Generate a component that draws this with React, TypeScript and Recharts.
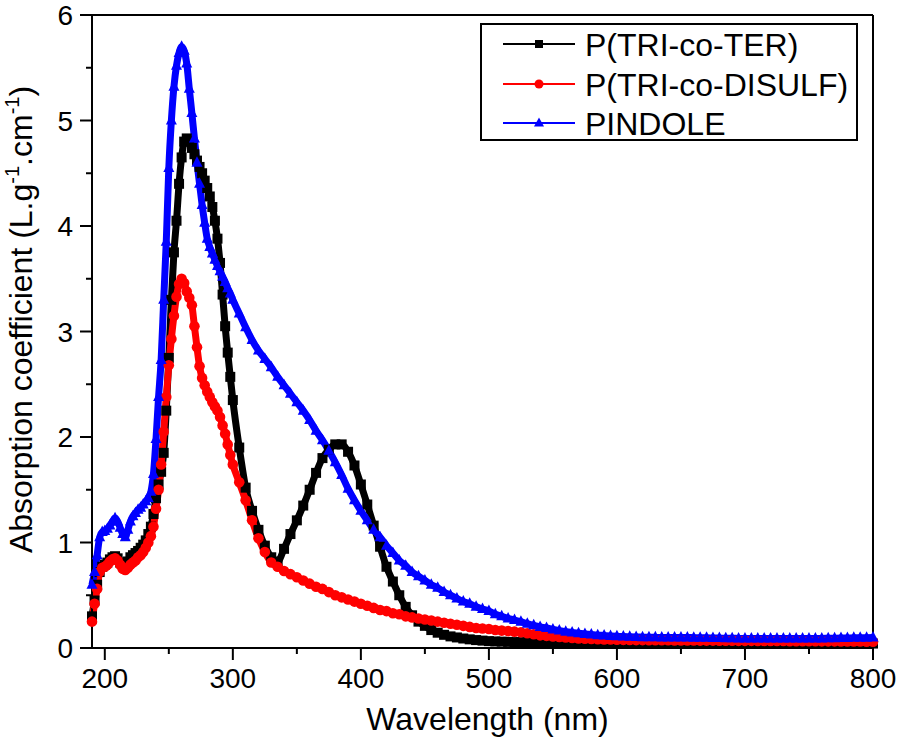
import { LineChart, Line, XAxis, YAxis, ReferenceLine } from "recharts";

// wavelength (nm)
const wavelength = [
  190, 192, 194, 196, 198, 200, 202, 204, 206, 208,
  210, 212, 214, 216, 218, 220, 222, 224, 226, 228,
  230, 232, 234, 236, 238, 240, 242, 244, 246, 248,
  250, 252, 254, 256, 258, 260, 262, 264, 266, 268,
  270, 272, 274, 276, 278, 280, 282, 284, 286, 288,
  290, 292, 294, 296, 298, 300,
  305, 310, 315, 320, 325, 330, 335, 340, 345, 350,
  355, 360, 365, 370, 375, 380, 385, 390, 395, 400,
  405, 410, 415, 420, 425, 430, 435, 440, 445, 450,
  455, 460, 465, 470, 475, 480, 485, 490, 495, 500,
  505, 510, 515, 520, 525, 530, 535, 540, 545, 550,
  555, 560, 565, 570, 575, 580, 585, 590, 595, 600,
  605, 610, 615, 620, 625, 630, 635, 640, 645, 650,
  655, 660, 665, 670, 675, 680, 685, 690, 695, 700,
  705, 710, 715, 720, 725, 730, 735, 740, 745, 750,
  755, 760, 765, 770, 775, 780, 785, 790, 795, 800,
];

// P(TRI-co-TER)
const terValues = [
  0.30, 0.45, 0.60, 0.72, 0.77, 0.79, 0.81, 0.84, 0.86, 0.87,
  0.85, 0.81, 0.79, 0.79, 0.82, 0.86, 0.88, 0.90, 0.92, 0.95,
  0.98, 1.02, 1.08, 1.15, 1.27, 1.42, 1.55, 1.67, 1.85, 2.25,
  2.75, 3.30, 3.75, 4.05, 4.40, 4.65, 4.80, 4.83, 4.80, 4.74,
  4.68, 4.62, 4.56, 4.50, 4.43, 4.36, 4.28, 4.18, 4.05, 3.88,
  3.65, 3.35, 3.05, 2.80, 2.57, 2.35,
  1.90, 1.52, 1.30, 1.12, 0.97, 0.86, 0.82, 0.94, 1.08, 1.21,
  1.35, 1.50, 1.66, 1.80, 1.88, 1.93, 1.93, 1.86, 1.73, 1.55,
  1.36, 1.16, 0.96, 0.77, 0.63, 0.50, 0.39, 0.31, 0.25, 0.21,
  0.17, 0.145, 0.125, 0.11, 0.10, 0.09, 0.082, 0.075, 0.07, 0.065,
  0.062, 0.06, 0.058, 0.056, 0.055, 0.054, 0.053, 0.052, 0.051, 0.05,
  0.05, 0.049, 0.048, 0.048, 0.047, 0.047, 0.046, 0.046, 0.045, 0.045,
  0.045, 0.044, 0.044, 0.044, 0.043, 0.043, 0.043, 0.043, 0.042, 0.042,
  0.042, 0.042, 0.042, 0.041, 0.041, 0.041, 0.041, 0.041, 0.04, 0.04,
  0.04, 0.04, 0.04, 0.04, 0.04, 0.04, 0.04, 0.04, 0.04, 0.04,
  0.04, 0.04, 0.04, 0.04, 0.041, 0.041, 0.041, 0.042, 0.042, 0.042,
];

// P(TRI-co-DISULF)
const disulfValues = [
  0.25, 0.42, 0.56, 0.72, 0.76, 0.77, 0.79, 0.82, 0.84, 0.85,
  0.83, 0.79, 0.75, 0.74, 0.76, 0.79, 0.81, 0.83, 0.86, 0.88,
  0.91, 0.95, 1.00, 1.06, 1.15, 1.32, 1.50, 1.74, 2.05, 2.38,
  2.68, 2.93, 3.15, 3.33, 3.45, 3.50, 3.46, 3.38, 3.32, 3.25,
  3.05, 2.85, 2.67, 2.56, 2.49, 2.43, 2.38, 2.33, 2.29, 2.25,
  2.19, 2.11, 2.03, 1.93, 1.83, 1.74,
  1.57, 1.40, 1.21, 1.04, 0.91, 0.81, 0.77, 0.73, 0.70, 0.67,
  0.64, 0.61, 0.58, 0.56, 0.53, 0.50, 0.48, 0.46, 0.44, 0.42,
  0.40, 0.38, 0.36, 0.35, 0.33, 0.32, 0.30, 0.29, 0.28, 0.27,
  0.26, 0.25, 0.24, 0.23, 0.22, 0.21, 0.20, 0.19, 0.185, 0.18,
  0.17, 0.165, 0.16, 0.155, 0.15, 0.14, 0.13, 0.12, 0.115, 0.11,
  0.105, 0.10, 0.095, 0.09, 0.088, 0.085, 0.083, 0.081, 0.08, 0.078,
  0.077, 0.076, 0.075, 0.075, 0.074, 0.074, 0.073, 0.073, 0.072, 0.072,
  0.071, 0.071, 0.07, 0.07, 0.07, 0.069, 0.069, 0.069, 0.068, 0.068,
  0.068, 0.067, 0.067, 0.066, 0.066, 0.066, 0.065, 0.065, 0.065, 0.064,
  0.064, 0.063, 0.063, 0.063, 0.062, 0.062, 0.061, 0.061, 0.06, 0.06,
];

// PINDOLE
const pindoleValues = [
  0.60, 0.72, 0.88, 1.05, 1.10, 1.11, 1.13, 1.16, 1.20, 1.23,
  1.20, 1.14, 1.08, 1.05, 1.12, 1.20, 1.25, 1.28, 1.31, 1.33,
  1.36, 1.39, 1.42, 1.48, 1.65, 1.98, 2.38, 2.73, 3.30, 3.85,
  4.55, 5.00, 5.32, 5.52, 5.64, 5.70, 5.66, 5.54, 5.30, 5.07,
  4.83, 4.60, 4.40, 4.20, 4.03, 3.88, 3.80, 3.74, 3.68, 3.62,
  3.57, 3.52, 3.47, 3.41, 3.36, 3.30,
  3.17, 3.04, 2.92, 2.82, 2.74, 2.66, 2.57, 2.49, 2.41, 2.33,
  2.25, 2.16, 2.06, 1.97, 1.87, 1.76, 1.64, 1.51, 1.40, 1.30,
  1.21, 1.12, 1.05, 0.97, 0.90, 0.83, 0.78, 0.72, 0.68, 0.64,
  0.60, 0.57, 0.53, 0.50, 0.47, 0.44, 0.42, 0.39, 0.37, 0.35,
  0.32, 0.30, 0.28, 0.265, 0.25, 0.23, 0.215, 0.20, 0.19, 0.175,
  0.165, 0.155, 0.147, 0.14, 0.133, 0.127, 0.122, 0.118, 0.114, 0.111,
  0.108, 0.106, 0.104, 0.103, 0.102, 0.101, 0.10, 0.10, 0.10, 0.10,
  0.099, 0.098, 0.097, 0.096, 0.095, 0.094, 0.093, 0.092, 0.091, 0.09,
  0.09, 0.09, 0.09, 0.09, 0.09, 0.09, 0.09, 0.09, 0.09, 0.09,
  0.09, 0.091, 0.092, 0.093, 0.094, 0.095, 0.096, 0.097, 0.098, 0.10,
];

const xTicks = [200, 250, 300, 350, 400, 450, 500, 550, 600, 650, 700, 750, 800];
const yTicks = [0, 0.5, 1, 1.5, 2, 2.5, 3, 3.5, 4, 4.5, 5, 5.5, 6];

const seriesNames = ["P(TRI-co-TER)", "P(TRI-co-DISULF)", "PINDOLE"];
const seriesColors = ["#000000", "#ff0000", "#0000ff"];

const FONT = '"Liberation Sans", Arial, Helvetica, sans-serif';
const TICK = 12;
const MINOR = 6;
const XGAP = 8;
const YGAP = 7;
const BAND = 7;

const data = wavelength.map((wl, i) => ({
  wl,
  ter: terValues[i],
  disulf: disulfValues[i],
  pindole: pindoleValues[i],
}));

function XTick(props: any) {
  const { x, y, payload } = props;
  const axisY = y - TICK - XGAP;
  const major = payload.value % 100 === 0;
  return (
    <g>
      <line x1={x} x2={x} y1={axisY} y2={axisY + (major ? TICK : MINOR)} stroke="#000" strokeWidth={2} />
      {major && (
        <text x={x} y={y} dy="0.71em" textAnchor="middle" fontSize={28} fontFamily={FONT} fill="#000">
          {payload.value}
        </text>
      )}
    </g>
  );
}

function YTick(props: any) {
  const { x, y, payload } = props;
  const axisX = x + TICK + YGAP;
  const major = Number.isInteger(payload.value);
  return (
    <g>
      <line x1={axisX} x2={axisX - (major ? TICK : MINOR)} y1={y} y2={y} stroke="#000" strokeWidth={2} />
      {major && (
        <text x={x} y={y} dy="0.36em" textAnchor="end" fontSize={28} fontFamily={FONT} fill="#000">
          {payload.value}
        </text>
      )}
    </g>
  );
}

function XTitle(props: any) {
  const { x, y, width } = props.viewBox;
  return (
    <text x={x + width / 2 + 5} y={y + 82} textAnchor="middle" fontSize={32} fontFamily={FONT} fill="#000">
      Wavelength (nm)
    </text>
  );
}

function YTitle(props: any) {
  const { y, height } = props.viewBox;
  return (
    <text
      transform={`translate(32, ${y + height / 2 - 12}) rotate(-90)`}
      textAnchor="middle"
      fontSize={32}
      fontFamily={FONT}
      fill="#000"
    >
      Absorption coefficient (L.g
      <tspan dy={-13} fontSize={20}>-1</tspan>
      <tspan dy={13}>.cm</tspan>
      <tspan dy={-13} fontSize={20}>-1</tspan>
      <tspan dy={13}>)</tspan>
    </text>
  );
}

const squareDot = (p: any) =>
  p.cx == null ? null : (
    <rect key={p.index} x={p.cx - 5} y={p.cy - 5} width={10} height={10} fill="#000" />
  );

const circleDot = (p: any) =>
  p.cx == null ? null : <circle key={p.index} cx={p.cx} cy={p.cy} r={5.3} fill="#ff0000" />;

const triangleDot = (p: any) =>
  p.cx == null ? null : (
    <polygon
      key={p.index}
      points={`${p.cx},${p.cy - 6.5} ${p.cx - 5.5},${p.cy + 4} ${p.cx + 5.5},${p.cy + 4}`}
      fill="#0000ff"
    />
  );

function LegendBox() {
  const rows = [21, 61, 100];
  return (
    <svg width={378} height={118} style={{ position: "absolute", left: 480, top: 23 }}>
      <rect x={1} y={1} width={376} height={116} fill="#fff" stroke="#000" strokeWidth={2} />
      {seriesNames.map((name, i) => (
        <g key={name}>
          <line x1={23} x2={95} y1={rows[i]} y2={rows[i]} stroke={seriesColors[i]} strokeWidth={2} />
          {i === 0 && <rect x={55} y={rows[i] - 4} width={8} height={8} fill="#000" />}
          {i === 1 && <circle cx={59} cy={rows[i]} r={4.5} fill="#ff0000" />}
          {i === 2 && (
            <polygon
              points={`59,${rows[i] - 5.5} 54,${rows[i] + 3.5} 64,${rows[i] + 3.5}`}
              fill="#0000ff"
            />
          )}
          <text x={105} y={rows[i]} dy="0.36em" fontSize={32} fontFamily={FONT} fill="#000">
            {name}
          </text>
        </g>
      ))}
    </svg>
  );
}

export default function App() {
  return (
    <div style={{ position: "absolute", left: 0, top: 0, width: 898, height: 741, background: "#fff" }}>
      <LineChart width={898} height={741} data={data} margin={{ top: 15, right: 25, bottom: 0, left: 0 }}>
        <XAxis
          dataKey="wl"
          type="number"
          domain={[190, 800]}
          ticks={xTicks}
          interval={0}
          tickSize={TICK}
          tickMargin={XGAP}
          tickLine={false}
          tick={<XTick />}
          height={93}
          axisLine={{ stroke: "#000", strokeWidth: 2 }}
          label={<XTitle />}
        />
        <YAxis
          type="number"
          domain={[0, 6]}
          ticks={yTicks}
          interval={0}
          tickSize={TICK}
          tickMargin={YGAP}
          tickLine={false}
          tick={<YTick />}
          width={92}
          axisLine={{ stroke: "#000", strokeWidth: 2 }}
          label={<YTitle />}
        />
        <ReferenceLine y={6} stroke="#000" strokeWidth={2} />
        <ReferenceLine x={800} stroke="#000" strokeWidth={2} />
        <Line
          dataKey="ter"
          name={seriesNames[0]}
          type="monotone"
          stroke={seriesColors[0]}
          strokeWidth={BAND}
          strokeLinejoin="round"
          dot={squareDot}
          activeDot={false}
          isAnimationActive={false}
        />
        <Line
          dataKey="disulf"
          name={seriesNames[1]}
          type="monotone"
          stroke={seriesColors[1]}
          strokeWidth={BAND}
          strokeLinejoin="round"
          dot={circleDot}
          activeDot={false}
          isAnimationActive={false}
        />
        <Line
          dataKey="pindole"
          name={seriesNames[2]}
          type="monotone"
          stroke={seriesColors[2]}
          strokeWidth={BAND}
          strokeLinejoin="round"
          dot={triangleDot}
          activeDot={false}
          isAnimationActive={false}
        />
      </LineChart>
      <LegendBox />
    </div>
  );
}
